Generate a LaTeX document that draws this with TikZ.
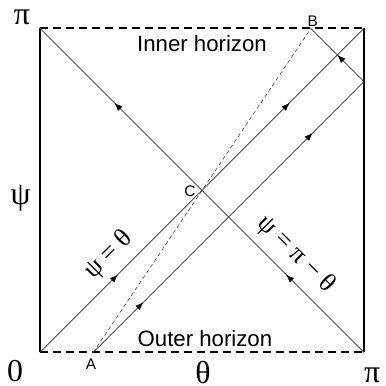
\documentclass[tikz,border=0pt]{standalone}
\usepackage{fontspec}
\setmainfont{Liberation Sans}
\newfontfamily\greekfont{Liberation Serif}
\usetikzlibrary{arrows.meta,decorations.markings}

\tikzset{
  fwd/.tip={Latex[length=7pt,width=5.5pt]},
  wall/.style={line width=1.5pt},
  horizon/.style={line width=1.8pt, dash pattern=on 7pt off 4.5pt},
  ray/.style={gray!40!black, line width=0.6pt},
  guide/.style={gray!40!black, line width=0.45pt, dash pattern=on 3.5pt off 2.5pt},
  twotips/.style 2 args={postaction={decorate}, decoration={markings,
      mark=at position #1 with {\arrow[black]{fwd}},
      mark=at position #2 with {\arrow[black]{fwd}}}},
  onetip/.style={postaction={decorate}, decoration={markings,
      mark=at position #1 with {\arrow[black]{fwd}}}},
  axis/.style={font=\greekfont\fontsize{28}{30}\selectfont, inner sep=0pt},
  curve/.style={font=\greekfont\fontsize{23}{26}\selectfont, inner sep=0pt},
  event/.style={font=\fontsize{13.5}{15}\selectfont, inner sep=0pt},
  region/.style={font=\fontsize{19.5}{22}\selectfont, inner sep=0pt}
}

\begin{document}
\begin{tikzpicture}

  % square 0..10 in theta (x) and psi (y)
  \useasboundingbox (-1.235,-1.035) rectangle (10.679,10.879);

  \coordinate (ll) at (0,0);
  \coordinate (lr) at (10,0);
  \coordinate (ul) at (0,10);
  \coordinate (ur) at (10,10);
  \coordinate (C)  at (5,5);
  \coordinate (A)  at (1.64,0);    % signal leaves outer horizon
  \coordinate (R)  at (10,8.36);   % reflection at theta = pi
  \coordinate (B)  at (8.36,10);   % arrives at inner horizon

  % boundaries
  \draw[wall] (ll) -- (ul);
  \draw[wall] (lr) -- (ur);
  \draw[horizon] (ul) -- (ur);
  \draw[horizon] (ll) -- (lr);

  % null rays
  \draw[ray, twotips={0.24}{0.77}] (ll) -- (ur);
  \draw[ray, twotips={0.24}{0.77}] (lr) -- (ul);
  \draw[ray, twotips={0.185}{0.81}] (A) -- (R);
  \draw[ray, onetip=0.5] (R) -- (B);
  \draw[guide] (A) -- (B);

  % labels
  \node[region] (inner) at (5.0,9.54) {Inner horizon};
  \node[region] (outer) at (5.09,0.43) {Outer horizon};
  \node[event] (labA) at (1.57,-0.36) {A};
  \node[event] (labB) at (8.42,10.22) {B};
  \node[event] (labC) at (4.63,4.97) {C};

  \node[curve, rotate=45]  (diag)  at (2.12,3.0) {ψ = θ};
  \node[curve, rotate=-45] (adiag) at (7.9,3.02) {ψ = π − θ};

  \node[axis] (pitop) at (-0.56,10.33) {π};
  \node[axis] (psi)   at (-0.6,4.75)  {ψ};
  \node[axis] (zero)  at (-0.77,-0.56) {0};
  \node[axis] (theta) at (5.03,-0.61)  {θ};
  \node[axis] (pibot) at (10.25,-0.7) {π};

\end{tikzpicture}
\end{document}
